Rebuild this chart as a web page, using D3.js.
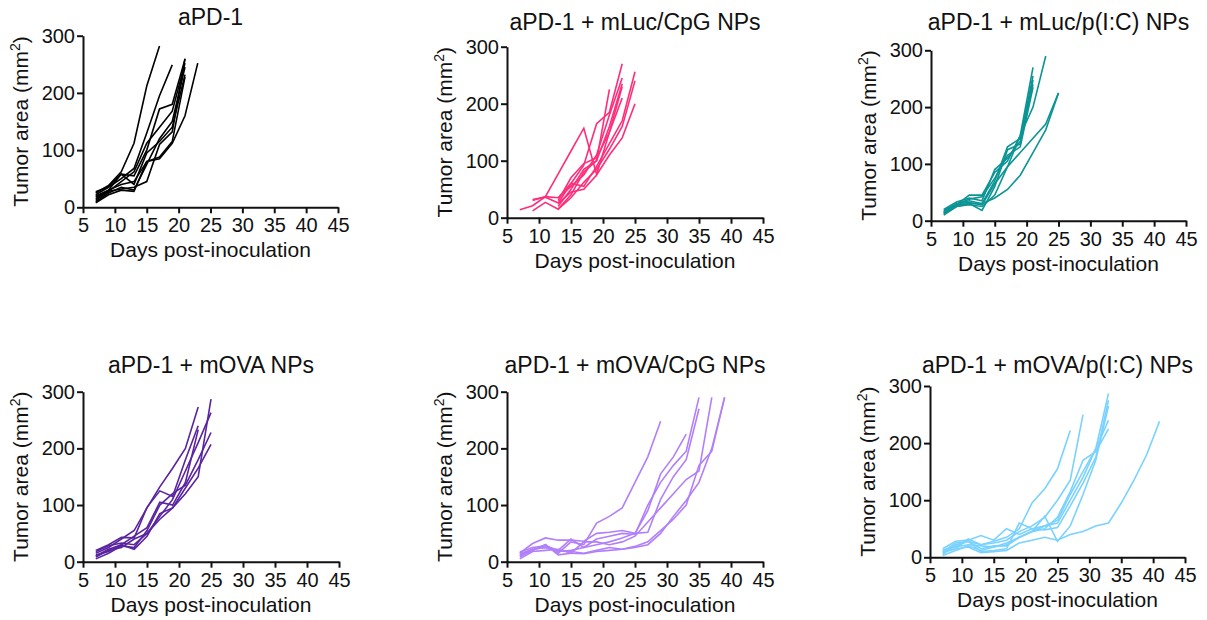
<!DOCTYPE html>
<html>
<head>
<meta charset="utf-8">
<script src="https://cdn.jsdelivr.net/npm/d3@7"></script>
<style>
  body { margin: 0; background: #fff; }
  text { font-family: Arial, "Liberation Sans", sans-serif; fill: #111; }
</style>
</head>
<body>
<svg id="chart" width="1207" height="620"></svg>
<script>
// Panel titles and line colours
var titles = ["aPD-1", "aPD-1 + mLuc/CpG NPs", "aPD-1 + mLuc/p(I:C) NPs",
              "aPD-1 + mOVA NPs", "aPD-1 + mOVA/CpG NPs", "aPD-1 + mOVA/p(I:C) NPs"]
var colors = ["#000000", "#ff2d7a", "#0c9494", "#5a24a0", "#b27ffa", "#7ad2ff"]

var xTicks = [5, 10, 15, 20, 25, 30, 35, 40, 45]
var yTicks = [0, 100, 200, 300]

// Tumor area per mouse, [day, mm2]
var aPD1 = [
  [[7,25],[9,38],[11,62],[13,112],[15,212],[17,282]],
  [[7,22],[9,35],[11,50],[13,68],[15,130],[17,195],[19,249]],
  [[7,15],[9,30],[11,58],[13,55],[15,100],[17,172],[19,180],[21,259]],
  [[7,12],[9,28],[11,45],[13,62],[15,112],[17,140],[19,168],[21,252]],
  [[7,20],[9,30],[11,40],[13,45],[15,80],[17,88],[19,115],[21,228]],
  [[7,10],[9,25],[11,35],[13,30],[15,75],[17,120],[19,150],[21,245]],
  [[7,18],[9,28],[11,32],[13,35],[15,45],[17,110],[19,132],[21,260]],
  [[7,8],[9,22],[11,30],[13,28],[15,80],[17,85],[19,112],[21,160],[23,252]],
  [[7,27],[9,36],[11,58],[13,40],[15,95],[17,115],[19,140],[21,232]]
]
var mLucCpG = [
  [[7,14],[9,21],[11,37],[13,77],[15,117],[17,157],[19,76],[21,150],[23,230]],
  [[9,12],[11,27],[13,15],[15,40],[17,80],[19,100],[21,225]],
  [[9,32],[11,36],[13,26],[15,60],[17,92],[19,165],[21,185],[23,270]],
  [[9,30],[11,37],[13,35],[15,55],[17,75],[19,110],[21,180],[23,245]],
  [[13,20],[15,50],[17,85],[19,100],[21,160],[23,235]],
  [[13,30],[15,70],[17,95],[19,105],[21,150],[23,210]],
  [[13,25],[15,45],[17,50],[19,75],[21,110],[23,140],[25,200]],
  [[13,35],[15,60],[17,55],[19,90],[21,130],[23,170],[25,256]],
  [[13,15],[15,35],[17,62],[19,85],[21,120],[23,160],[25,240]]
]
var mLucPIC = [
  [[7,15],[9,28],[11,45],[13,45],[15,85],[17,105],[19,150],[21,270]],
  [[7,18],[9,30],[11,35],[13,30],[15,70],[17,130],[19,145],[21,255]],
  [[7,12],[9,25],[11,30],[13,18],[15,60],[17,125],[19,135],[21,248]],
  [[7,20],[9,33],[11,40],[13,35],[15,90],[17,110],[19,140],[21,240]],
  [[7,14],[9,28],[11,38],[13,42],[15,75],[17,115],[19,130],[21,235]],
  [[7,16],[9,30],[11,32],[13,28],[15,65],[17,95],[19,150],[21,200],[23,290]],
  [[7,10],[9,25],[11,28],[13,25],[15,45],[17,95],[19,120],[21,145],[23,170],[25,225]],
  [[7,13],[9,27],[11,30],[13,30],[15,40],[17,55],[19,80],[21,120],[23,160],[25,225]]
]
var mOVA = [
  [[7,15],[9,25],[11,40],[13,55],[15,95],[17,132],[19,165],[21,200],[23,273]],
  [[7,20],[9,30],[11,43],[13,42],[15,96],[17,125],[19,115],[21,180],[23,240]],
  [[7,10],[9,22],[11,30],[13,45],[15,60],[17,105],[19,100],[21,140],[23,233]],
  [[7,12],[9,18],[11,30],[13,22],[15,45],[17,85],[19,95],[21,120],[23,150],[25,287]],
  [[7,18],[9,28],[11,33],[13,30],[15,50],[17,80],[19,110],[21,160],[23,210],[25,263]],
  [[7,5],[9,15],[11,28],[13,25],[15,55],[17,100],[19,120],[21,135],[23,180],[25,228]],
  [[7,8],[9,20],[11,25],[13,40],[15,50],[17,75],[19,95],[21,130],[23,165],[25,207]]
]
var mOVACpG = [
  [[7,10],[9,20],[11,30],[13,15],[15,35],[17,30],[19,68],[21,80],[23,95],[25,140],[27,185],[29,248]],
  [[7,15],[9,32],[11,42],[13,38],[15,38],[17,36],[19,50],[21,52],[23,55],[25,50],[27,90],[29,155],[31,185],[33,225]],
  [[7,17],[9,25],[11,28],[13,20],[15,40],[17,25],[19,40],[21,45],[23,50],[25,48],[27,100],[29,140],[31,170],[33,195],[35,290]],
  [[7,12],[9,22],[11,25],[13,18],[15,20],[17,25],[19,30],[21,35],[23,42],[25,50],[27,52],[29,110],[31,150],[33,180],[35,270]],
  [[7,8],[9,20],[11,30],[13,12],[15,15],[17,35],[19,35],[21,30],[23,35],[25,45],[27,70],[29,95],[31,120],[33,145],[35,160],[37,290]],
  [[7,14],[9,22],[11,25],[13,20],[15,18],[17,15],[19,20],[21,25],[23,22],[25,27],[27,35],[29,55],[31,75],[33,100],[35,170],[37,195],[39,290]],
  [[7,5],[9,18],[11,20],[13,22],[15,15],[17,14],[19,18],[21,20],[23,22],[25,25],[27,30],[29,50],[31,80],[33,108],[35,140],[37,200],[39,290]]
]
var mOVAPIC = [
  [[7,12],[9,20],[11,28],[13,22],[15,28],[17,35],[19,50],[21,95],[23,120],[25,155],[27,222]],
  [[7,8],[9,15],[11,32],[13,22],[15,25],[17,30],[19,45],[21,55],[23,70],[25,100],[27,135],[29,250]],
  [[7,15],[9,28],[11,30],[13,38],[15,30],[17,50],[19,40],[21,50],[23,55],[25,60],[27,100],[29,140],[31,190],[33,287]],
  [[7,10],[9,25],[11,28],[13,10],[15,12],[17,15],[19,60],[21,50],[23,48],[25,52],[27,90],[29,130],[31,175],[33,275]],
  [[7,5],[9,22],[11,28],[13,15],[15,20],[17,20],[19,35],[21,45],[23,72],[25,28],[27,55],[29,110],[31,170],[33,265]],
  [[7,12],[9,18],[11,22],[13,20],[15,18],[17,22],[19,35],[21,45],[23,55],[25,65],[27,110],[29,150],[31,190],[33,240]],
  [[7,3],[9,12],[11,20],[13,12],[15,18],[17,25],[19,35],[21,45],[23,50],[25,70],[27,115],[29,170],[31,185],[33,225]],
  [[7,10],[9,15],[11,18],[13,8],[15,10],[17,12],[19,25],[21,30],[23,35],[25,30],[27,40],[29,45],[31,55],[33,60],[35,95],[37,135],[39,180],[41,238]]
]

var groups = [aPD1, mLucCpG, mLucPIC, mOVA, mOVACpG, mOVAPIC]

// Where each panel's axes sit on the page
var layout = [
  {left: 83,  right: 338,  top: 35.7,  bottom: 207.3, titleY: 25},
  {left: 507, right: 763,  top: 46.7,  bottom: 217.7, titleY: 30},
  {left: 931, right: 1186, top: 50.3,  bottom: 220.7, titleY: 30},
  {left: 83,  right: 339,  top: 391.7, bottom: 561.7, titleY: 373},
  {left: 507, right: 763,  top: 391.7, bottom: 561.7, titleY: 373},
  {left: 930, right: 1185, top: 386,   bottom: 557.3, titleY: 373}
]

var svg = d3.select("#chart")

groups.forEach(function(series, i) {
  var L = layout[i]

  var x = d3.scaleLinear().domain([5, 45]).range([L.left, L.right])
  var y = d3.scaleLinear().domain([0, 300]).range([L.bottom, L.top])

  var g = svg.append("g").attr("class", "panel")

  //lines first so the axes sit on top
  var line = d3.line()
               .x(function(d) { return x(d[0]) })
               .y(function(d) { return y(d[1]) })

  g.selectAll("path.mouse")
   .data(series)
   .enter()
   .append("path")
   .attr("class", "mouse")
   .attr("d", line)
   .attr("fill", "none")
   .attr("stroke", colors[i])
   .attr("stroke-width", 1.6)
   .attr("stroke-linejoin", "miter")

  //x axis
  var xAxis = g.append("g")
               .attr("transform", "translate(0," + L.bottom + ")")
               .call(d3.axisBottom(x).tickValues(xTicks).tickSize(6).tickPadding(5).tickSizeOuter(0))
  //y axis
  var yAxis = g.append("g")
               .attr("transform", "translate(" + L.left + ",0)")
               .call(d3.axisLeft(y).tickValues(yTicks).tickSize(6).tickPadding(2).tickSizeOuter(0))

  ;[xAxis, yAxis].forEach(function(a) {
    a.select(".domain").attr("stroke", "#111").attr("stroke-width", 2)
    a.selectAll(".tick line").attr("stroke", "#111").attr("stroke-width", 2)
    a.selectAll(".tick text")
     .style("font-family", "Arial, 'Liberation Sans', sans-serif")
     .style("font-size", "20px")
     .attr("fill", "#111")
  })

  //title
  g.append("text")
   .text(titles[i])
   .attr("x", (L.left + L.right) / 2)
   .attr("y", L.titleY)
   .attr("text-anchor", "middle")
   .style("font-size", "23px")

  //x label
  g.append("text")
   .text("Days post-inoculation")
   .attr("x", (L.left + L.right) / 2)
   .attr("y", L.bottom + 50)
   .attr("text-anchor", "middle")
   .style("font-size", "21px")

  //y label with superscript
  var yl = g.append("text")
            .attr("transform", "translate(" + (L.left - 55) + "," + ((L.top + L.bottom) / 2) + ") rotate(-90)")
            .attr("text-anchor", "middle")
            .style("font-size", "21px")
  yl.append("tspan").text("Tumor area (mm")
  yl.append("tspan").text("2").attr("baseline-shift", "super").style("font-size", "14px")
  yl.append("tspan").text(")")
})
</script>
</body>
</html>
